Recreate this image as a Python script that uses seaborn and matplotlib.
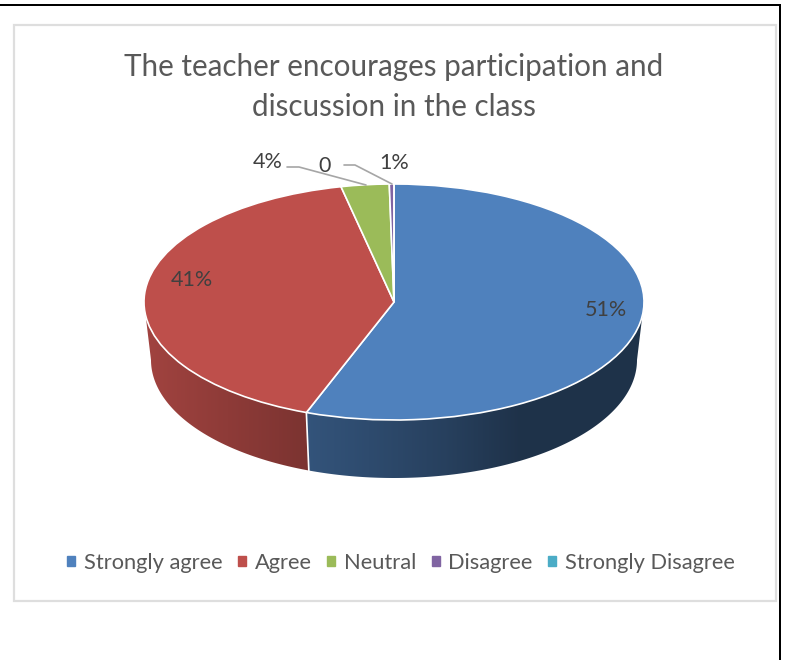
import numpy as np
import seaborn as sns
import matplotlib.pyplot as plt
from matplotlib.patches import Patch, Polygon, Rectangle

categories = ['Strongly agree', 'Agree', 'Neutral', 'Disagree', 'Strongly Disagree']
# slice sizes as they appear in the tilted pie, the printed labels are separate
drawn_shares = [55.7, 40.9, 3.1, 0.3, 0.0]
pct_labels = ['51%', '41%', '4%', '1%', '0']
colors = ['#4F81BD', '#BE4F4B', '#9BBB59', '#8064A2', '#4BACC6']
title_text = 'The teacher encourages participation and\ndiscussion in the class'

sns.set_theme(style='white')
plt.rcParams['font.family'] = ['Lato', 'DejaVu Sans']
palette = sns.color_palette(colors)

W, H = 785, 660
CX, CY, RX, RY, DEPTH = 394, 302, 250, 118, 58
BOTTOM_SCALE = 243 / 250


def px(x, y):
    return (x - CX) / RX, (CY - y) / RY


fig = plt.figure(figsize=(W / 100, H / 100), dpi=100)
ax = fig.add_axes([0, 0, 1, 1])

# outer black lines and the chart frame
fig.add_artist(Rectangle((0, 1 - 6 / H), 781 / W, 2.4 / H, transform=fig.transFigure, color='black', lw=0))
fig.add_artist(Rectangle((778.8 / W, 0), 2.4 / W, 1 - 4 / H, transform=fig.transFigure, color='black', lw=0))
fig.add_artist(Rectangle((14 / W, 1 - 600.5 / H), 762 / W, 576 / H, transform=fig.transFigure,
                         fill=False, ec='#DEDEDE', lw=1.6))

# rim of the pie, darker towards the right
edges = np.cumsum([0] + drawn_shares) / 100 * 2 * np.pi
dy = DEPTH / RY
grad_x = np.linspace(-1, 1, 500)
shade = np.interp(grad_x, [-1, -0.35, 0.2, 0.5, 1], [0.85, 0.65, 0.5, 0.39, 0.39])
for i, col in enumerate(palette):
    start, end = max(edges[i], np.pi / 2), min(edges[i + 1], 3 * np.pi / 2)
    if end <= start:
        continue
    t = np.linspace(start, end, 200)
    top = np.column_stack([np.sin(t), np.cos(t)])
    bottom = np.column_stack([BOTTOM_SCALE * np.sin(t), np.cos(t) - dy])[::-1]
    outline = Polygon(np.vstack([top, bottom]), transform=ax.transData, fc='none', ec='none')
    ax.add_patch(outline)
    grad = np.outer(shade, np.array(col))[np.newaxis, :, :]
    im = ax.imshow(grad, extent=(-1, 1, -1 - dy, 1), aspect='auto', interpolation='bilinear')
    im.set_clip_path(outline)

# white seam between the rim pieces
seam = edges[1]
ax.plot([np.sin(seam), BOTTOM_SCALE * np.sin(seam)], [np.cos(seam), np.cos(seam) - dy], color='white', lw=1.2)

wedges, _ = ax.pie(drawn_shares, colors=palette, startangle=90, counterclock=False,
                   wedgeprops={'edgecolor': 'white', 'linewidth': 1.2})
ax.set_aspect('auto')
ax.set_xlim(-CX / RX, (W - CX) / RX)
ax.set_ylim((CY - H) / RY, CY / RY)
ax.axis('off')

# labels and their leader lines
label_pos = [(606, 310), (192, 280), (268, 162), (394, 163), (325, 166)]
for txt, (x, y) in zip(pct_labels, label_pos):
    ax.text(*px(x, y), txt, ha='center', va='center', fontsize=15.5, color='#404040')
for line in ([(287, 167), (299, 167), (366, 185)], [(344, 165), (355, 165), (392, 184)]):
    ax.plot(*zip(*[px(x, y) for x, y in line]), color='#A6A6A6', lw=1.2)

fig.text(394 / W, 1 - 87 / H, title_text, ha='center', va='center', fontsize=21.3,
         color='#595959', linespacing=1.5)

handles = [Patch(color=c, label=n) for c, n in zip(palette, categories)]
ax.legend(handles=handles, ncol=5, loc='center', bbox_to_anchor=(401 / W, 1 - 563 / H),
          bbox_transform=fig.transFigure, frameon=False, fontsize=15.75, labelcolor='#595959',
          handlelength=0.37, handleheight=0.37, handletextpad=0.38, columnspacing=0.72)

fig.savefig('out.png', dpi=100)
